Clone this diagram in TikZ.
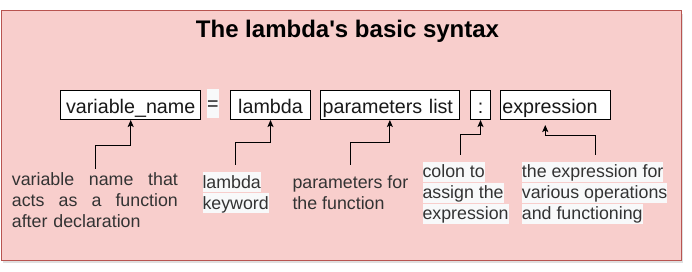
\documentclass[tikz,border=0pt]{standalone}
\usepackage{fontspec}
\setmainfont{Liberation Sans}
\usepackage{tikz}
\usetikzlibrary{arrows.meta, positioning, shadows}
\definecolor{rosa}{HTML}{F8CECC}
\definecolor{rojo}{HTML}{B85450}
\definecolor{texto}{HTML}{333333}
\definecolor{resalte}{HTML}{F8F9FA}
\newcommand{\linea}{\rule[-0.212em]{0pt}{1.117em}}
\newcommand{\resaltar}[1]{{\setlength{\fboxsep}{0pt}\colorbox{resalte}{\linea #1}}}
\tikzset{
  marco/.style={rectangle, draw=rojo, fill=rosa, line width=1pt,
    minimum width=680pt, minimum height=249pt,
    drop shadow={shadow xshift=2pt, shadow yshift=-3pt, opacity=0.25}},
  caja/.style={rectangle, draw=black, line width=1pt, fill=white,
    minimum height=29.3pt, inner sep=0pt, outer sep=0pt,
    text height=18pt, text depth=2pt, text=black!90,
    font=\fontsize{19.7}{23}\selectfont},
  etiqueta/.style={anchor=north west, inner sep=0pt, align=left,
    text=texto, font=\fontsize{17.8}{21}\selectfont},
  flecha/.style={-{Stealth[length=7pt, width=6pt, inset=1.5pt]}, line width=1pt}
}

\begin{document}
\begin{tikzpicture}[x=1pt, y=-1pt]

  \path[fill=white, use as bounding box] (0,0) rectangle (692,272);

  % --- Marco ---
  \node[marco] (fondo) at (341,135.5) {};
  \node[anchor=base, font=\fontsize{24}{28}\selectfont\bfseries] (titulo)
    at (347.5,37.3) {The lambda\textquotesingle s basic syntax};

  % --- Sintaxis ---
  \node[caja, minimum width=140pt] (var) at (130.7,105.35) {variable\_name};
  \node[caja, draw=none, fill=resalte, minimum width=12.3pt,
    text height=17.6pt, text depth=3.4pt, right=6pt of var, yshift=1.55pt] (igual) {=};
  \node[caja, minimum width=80.4pt, right=11.3pt of igual.east |- var.east, anchor=west] (lam) {lambda};
  \node[caja, text width=134.3pt, inner xsep=2pt, align=left, right=10pt of lam] (par)
    {parameters list};
  \node[caja, minimum width=19.6pt, right=11.7pt of par] (dos) {:};
  \node[caja, text width=105.7pt, inner xsep=2pt, align=left, right=10pt of dos] (expr)
    {expression};

  % --- Etiquetas ---
  \node[etiqueta, text width=166pt] (evar) at (11.7,168.9)
    {\makebox[166pt][l]{\linea variable\hfill name\hfill that}\\
     \makebox[166pt][l]{\linea acts\hfill as\hfill a\hfill function}\\
     \linea after declaration};
  \node[etiqueta] (elam) at (202.3,172.2) {\resaltar{lambda}\\ \resaltar{keyword}};
  \node[etiqueta] (epar) at (292.3,172.5) {\linea parameters for\\ \linea the function};
  \node[etiqueta] (edos) at (422.3,161.6)
    {\resaltar{colon to}\\ \resaltar{assign the}\\ \resaltar{expression}};
  \node[etiqueta] (eexpr) at (521.7,161.6)
    {\resaltar{the expression for}\\ \resaltar{various operations}\\ \resaltar{and functioning}};

  % --- Conectores ---
  \draw[flecha] ([xshift=1pt]evar.north) -- ++(0,-23.2) -| (var.south);
  \draw[flecha] ([yshift=7.2pt]elam.north) -- ++(0,-22.3) -| (lam.south);
  \draw[flecha] ([yshift=7.5pt]epar.north) -- ++(0,-22.3) -| (par.south);
  \draw[flecha] ([xshift=-5.3pt, yshift=6.6pt]edos.north) -- ++(0,-20) -| (dos.south);
  \draw[flecha] ([xshift=1.3pt, yshift=6.6pt]eexpr.north) -- ++(0,-19.3)
    -| ([xshift=-9.9pt, yshift=-5pt]expr.south);

\end{tikzpicture}
\end{document}
